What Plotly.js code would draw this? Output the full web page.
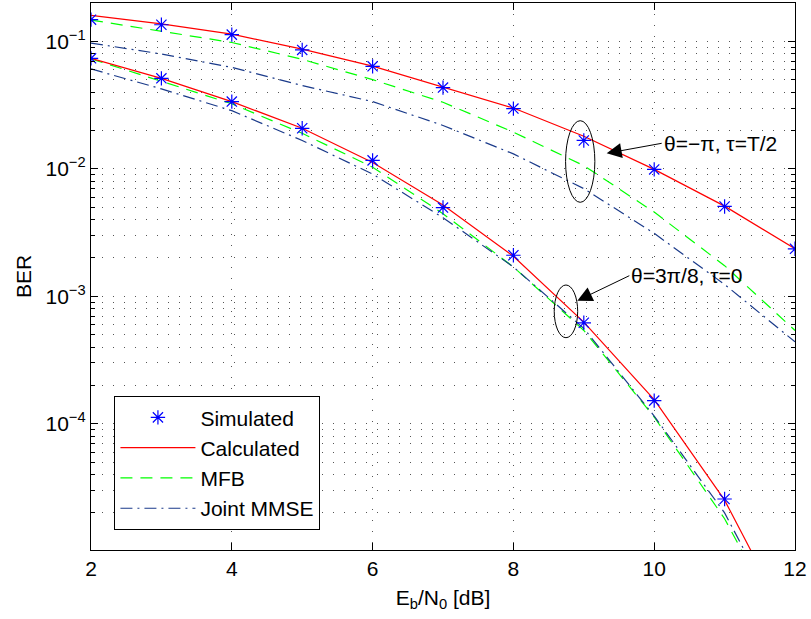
<!DOCTYPE html>
<html>
<head>
<meta charset="utf-8">
<script src="https://cdn.plot.ly/plotly-3.0.1.min.js"></script>
<style>html,body{margin:0;padding:0;background:#fff;}#chart{width:811px;height:619px;}</style>
</head>
<body>
<div id="chart"></div>
<script>
// Eb/N0 values [dB]
const ebn0 = [2, 3, 4, 5, 6, 7, 8, 9, 10, 11, 12];

// Group 1: theta = -pi, tau = T/2
const simTop  = [0.148, 0.135, 0.113, 0.0857, 0.0637, 0.0434, 0.0297, 0.0167, 0.0099, 0.00507, 0.00236];
const calcTop = [0.160, 0.137, 0.114, 0.0870, 0.0640, 0.0440, 0.0300, 0.0180, 0.0099, 0.0051, 0.00236];
const mfbTop  = [0.147, 0.120, 0.098, 0.0723, 0.0501, 0.0333, 0.0194, 0.0106, 0.00458, 0.00174, 0.00054];
const mmseTop = [0.097, 0.0796, 0.0625, 0.045, 0.0337, 0.0219, 0.0131, 0.0070, 0.00312, 0.00124, 0.00044];

// Group 2: theta = 3pi/8, tau = 0
const ebn0Sim2 = [2, 3, 4, 5, 6, 7, 8, 9, 10, 11];
const simBot  = [0.0736, 0.0513, 0.0337, 0.0208, 0.01165, 0.00497, 0.0021, 0.00062, 0.000152, 0.0000257];
const calcBot = [0.0736, 0.0513, 0.0337, 0.0208, 0.01122, 0.00521, 0.00206, 0.000627, 0.000155, 0.0000252, 0.0000022];
const mfbBot  = [0.073, 0.0487, 0.0324, 0.019, 0.0103, 0.00445, 0.0017, 0.00054, 0.000113, 0.000018, 0.0000017];
const mmseBot = [0.0608, 0.0424, 0.0286, 0.0167, 0.0091, 0.00414, 0.0017, 0.00056, 0.000115, 0.000020, 0.0000018];

// Tick labels
const yTickVals = [1e-4, 1e-3, 1e-2, 1e-1];
const yTickText = ['10<sup>\u22124</sup>', '10<sup>\u22123</sup>', '10<sup>\u22122</sup>', '10<sup>\u22121</sup>'];
const xTickVals = [2, 4, 6, 8, 10, 12];

const RED = '#ff0000', GREEN = '#00ff00', NAVY = '#1a3a8a', BLUE = '#0000ff';
const FONT = 'Liberation Sans, Arial, Helvetica, sans-serif';
const FS = 21;

function line(y, color, dash, name, show, rank) {
  return {x: ebn0, y: y, type: 'scatter', mode: 'lines', name: name, showlegend: show,
          legendrank: rank, line: {color: color, width: 1.2, dash: dash}};
}
function stars(x, y, show) {
  return {x: x, y: y, type: 'scatter', mode: 'markers', name: 'Simulated', showlegend: show,
          legendrank: 1,
          marker: {symbol: 'asterisk-open', size: 12, color: BLUE, line: {color: BLUE, width: 1.2}}};
}

const traces = [
  line(mfbTop, GREEN, '12px,8px', 'MFB', true, 3),
  line(mfbBot, GREEN, '12px,8px', 'MFB', false, 3),
  line(mmseTop, NAVY, '12px,5px,2px,5px', 'Joint MMSE', true, 4),
  line(mmseBot, NAVY, '12px,5px,2px,5px', 'Joint MMSE', false, 4),
  line(calcTop, RED, 'solid', 'Calculated', true, 2),
  line(calcBot, RED, 'solid', 'Calculated', false, 2),
  stars(ebn0, simTop, true),
  stars(ebn0Sim2, simBot, false)
];

// pixel helpers for decorations (plot area: top 3, bottom 550)
const py = Y => (550 - Y) / 547;

const layout = {
  width: 811, height: 619,
  margin: {l: 91, r: 16, t: 3, b: 69},
  paper_bgcolor: '#fff', plot_bgcolor: '#fff',
  font: {family: FONT, size: FS, color: '#000'},
  showlegend: true,
  xaxis: {
    range: [2, 12], tickvals: xTickVals, ticks: 'inside', ticklen: 7, tickcolor: '#000',
    showline: true, linecolor: '#000', linewidth: 1.2, mirror: 'ticks',
    showgrid: true, gridcolor: '#555', griddash: '1px,10px', gridwidth: 1,
    zeroline: false, tickfont: {size: FS, family: FONT},
    title: {text: 'E<sub>b</sub>/N<sub>0</sub> [dB]', font: {size: FS, family: FONT}, standoff: 10}
  },
  yaxis: {
    type: 'log', range: [-4.99, Math.log10(0.2)],
    tickvals: yTickVals, ticktext: yTickText,
    ticks: 'inside', ticklen: 7, tickcolor: '#000',
    showline: true, linecolor: '#000', linewidth: 1.2, mirror: 'ticks',
    showgrid: true, gridcolor: '#555', griddash: '1px,10px', gridwidth: 1,
    zeroline: false, tickfont: {size: FS, family: FONT},
    minor: {dtick: 'D1', ticks: 'inside', ticklen: 4, tickcolor: '#000',
            showgrid: true, gridcolor: '#555', griddash: '1px,10px', gridwidth: 1},
    title: {text: 'BER', font: {size: FS, family: FONT}, standoff: 8}
  },
  legend: {
    x: 0.033, y: 0.2815, xanchor: 'left', yanchor: 'top',
    bgcolor: '#fff', bordercolor: '#000', borderwidth: 1.2,
    font: {size: FS, family: FONT}, itemwidth: 75, tracegroupgap: 0
  },
  shapes: [
    {type: 'circle', xref: 'x', yref: 'paper', x0: 8.741, x1: 9.157, y0: py(202.3), y1: py(120.7),
     line: {color: '#000', width: 1}},
    {type: 'circle', xref: 'x', yref: 'paper', x0: 8.580, x1: 8.913, y0: py(337.7), y1: py(285),
     line: {color: '#000', width: 1}}
  ],
  annotations: [
    {xref: 'x', yref: 'paper', x: 9.325, y: py(153.3), ax: 55, ay: -10,
     text: '\u03b8=\u2212\u03c0, \u03c4=T/2', xanchor: 'left', yanchor: 'middle',
     showarrow: true, arrowhead: 2, arrowsize: 3, arrowwidth: 1, arrowcolor: '#000',
     font: {size: FS, family: FONT}},
    {xref: 'x', yref: 'paper', x: 8.908, y: py(300.7), ax: 52, ay: -25,
     text: '\u03b8=3\u03c0/8, \u03c4=0', xanchor: 'left', yanchor: 'middle',
     showarrow: true, arrowhead: 2, arrowsize: 3, arrowwidth: 1, arrowcolor: '#000',
     font: {size: FS, family: FONT}}
  ]
};

Plotly.newPlot('chart', traces, layout, {displayModeBar: false, staticPlot: true});
</script>
</body>
</html>
